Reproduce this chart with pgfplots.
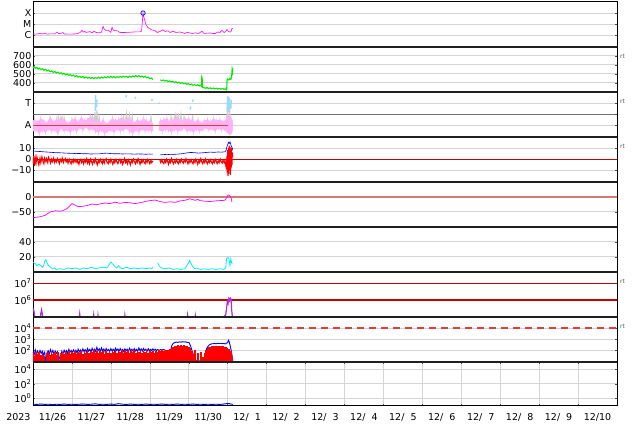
\documentclass[border=0pt]{standalone}
\usepackage{fontspec}
\setmainfont{DejaVu Sans}
\usepackage{pgfplots}
\pgfplotsset{compat=1.18}
\definecolor{pinkA}{RGB}{255,178,245}
\definecolor{grayA}{RGB}{205,205,205}
\definecolor{lblue}{RGB}{150,220,245}
\definecolor{gridc}{RGB}{212,212,212}
\definecolor{sepc}{RGB}{32,32,32}
\definecolor{dred}{RGB}{200,0,0}
\definecolor{ared}{RGB}{225,60,60}
\definecolor{lred}{RGB}{215,120,120}
\definecolor{purp}{RGB}{175,45,215}
\definecolor{mag}{RGB}{255,0,255}
\definecolor{grn}{RGB}{0,235,0}
\definecolor{cyn}{RGB}{0,240,240}
\newcommand{\fs}{\fontsize{9.5}{11}\selectfont}
\newcommand{\fsp}{\hphantom{0}}
\pgfplotsset{
 panel/.style={
  anchor=north west, at={(33pt,-#1)},
  width=584pt, height=45pt, scale only axis,
  xmin=0, xmax=15,
  xtick=\empty, minor xtick={1,2,...,14}, xminorgrids=true,
  ymajorgrids=true, yminorticks=false,
  grid style={gridc, line width=0.5pt},
  minor grid style={gridc, line width=0.5pt},
  major tick length=2pt, minor tick length=2pt,
  tick style={black!70, line width=0.4pt},
  axis line style={black, line width=0.8pt},
  yticklabel style={font=\fs, inner sep=1.5pt},
  /pgf/number format/assume math mode=true,
  unbounded coords=jump,
 },
 sepline/.style={after end axis/.append code={\draw[sepc, line width=2.2pt] (rel axis cs:0,1) -- (rel axis cs:1,1);}},
 rtlab/.style={after end axis/.append code={\node[font=\fontsize{6}{7}\selectfont, text=black!65, anchor=west, inner sep=0pt] at ([xshift=3pt]rel axis cs:1,0.78) {rt};}},
}
\begin{document}
\begin{tikzpicture}
\useasboundingbox (0,0) rectangle (634pt,-424pt);

% Panel 1: X-ray flux
\begin{axis}[panel=1.7pt, ymode=log, ymin=1e-7, ymax=1e-3,
  ytick={1e-6,1e-5,1e-4}, yticklabels={C,M,X}]
\addplot[mag, line width=0.6pt] coordinates {
(0,1.36e-6)(0.08,1.3e-6)(0.18,1.5e-6)(0.25,1.36e-6)(0.31,1.66e-6)(0.36,1.3e-6)(0.45,1.4e-6)(0.55,1.36e-6)(0.62,2.0e-6)(0.66,1.4e-6)(0.77,1.8e-6)(0.80,1.36e-6)(0.95,1.3e-6)(1.08,1.36e-6)(1.15,1.5e-6)(1.21,1.84e-6)(1.26,2.9e-6)(1.29,2.0e-6)(1.33,2.3e-6)(1.36,1.84e-6)(1.46,2.2e-6)(1.52,1.7e-6)(1.57,2.4e-6)(1.62,1.84e-6)(1.70,1.7e-6)(1.76,2.0e-6)(1.80,6.6e-6)(1.83,3.5e-6)(1.87,2.8e-6)(1.93,2.9e-6)(1.97,2.2e-6)(2.00,1.9e-6)(2.03,5.4e-6)(2.06,3.0e-6)(2.11,2.7e-6)(2.18,2.5e-6)(2.22,1.9e-6)(2.26,1.84e-6)(2.36,1.84e-6)(2.45,1.9e-6)(2.55,2.0e-6)(2.65,2.1e-6)(2.75,2.1e-6)(2.79,2.5e-6)(2.81,2.0e-5)(2.826,9.8e-5)(2.84,5.5e-5)(2.85,3.9e-5)(2.88,1.7e-5)(2.90,9.4e-6)(2.95,5.1e-6)(3.01,3.8e-6)(3.06,3.0e-6)(3.13,2.8e-6)(3.19,1.84e-6)(3.26,2.26e-6)(3.34,3.2e-6)(3.39,2.26e-6)(3.47,2.5e-6)(3.52,1.84e-6)(3.60,2.4e-6)(3.67,1.84e-6)(3.78,2.04e-6)(3.90,1.5e-6)(3.96,1.9e-6)(4.03,1.66e-6)(4.10,1.5e-6)(4.16,1.7e-6)(4.25,1.5e-6)(4.29,1.84e-6)(4.34,2.4e-6)(4.39,1.5e-6)(4.47,1.6e-6)(4.55,1.66e-6)(4.62,1.5e-6)(4.68,1.5e-6)(4.75,2.04e-6)(4.80,1.84e-6)(4.85,2.77e-6)(4.91,1.84e-6)(4.95,2.2e-6)(4.98,3.4e-6)(5.02,2.26e-6)(5.06,2.0e-6)(5.09,2.3e-6)(5.11,4.4e-6)(5.13,4.0e-6)};
\addplot[blue, only marks, mark=o, mark size=2.2pt, line width=0.7pt] coordinates {(2.826,9.8e-5)};
\end{axis}

% Panel 2: speed
\begin{axis}[panel=46.7pt, sepline, rtlab, ymin=300, ymax=800,
  ytick={400,500,600,700}]
\addplot[grn, line width=1.1pt] coordinates {
(0.00,580)(0.02,565)(0.04,575)(0.07,560)(0.10,568)(0.13,552)(0.16,562)(0.20,545)(0.24,555)(0.28,538)(0.32,548)(0.36,530)(0.40,540)(0.44,522)(0.48,532)(0.52,515)(0.56,525)(0.60,508)(0.64,518)(0.68,500)(0.72,510)(0.76,495)(0.80,503)(0.84,488)(0.88,496)(0.92,480)(0.96,490)(1.00,475)(1.04,485)(1.08,468)(1.12,478)(1.16,462)(1.20,472)(1.24,458)(1.28,468)(1.32,452)(1.36,463)(1.40,450)(1.44,460)(1.48,448)(1.52,458)(1.56,446)(1.60,456)(1.64,448)(1.68,460)(1.72,450)(1.76,462)(1.80,452)(1.84,465)(1.88,455)(1.92,468)(1.96,456)(2.00,470)(2.04,458)(2.08,468)(2.12,455)(2.16,466)(2.20,458)(2.24,470)(2.28,460)(2.32,472)(2.36,462)(2.40,470)(2.44,458)(2.48,472)(2.52,462)(2.56,475)(2.60,465)(2.64,480)(2.68,466)(2.72,478)(2.76,465)(2.80,474)(2.84,460)(2.88,470)(2.92,455)(2.96,462)(3.00,445)(3.04,452)(3.08,436)(3.10,nan)
(3.27,432)(3.31,422)(3.35,430)(3.39,418)(3.43,426)(3.47,412)(3.51,420)(3.55,408)(3.59,416)(3.63,402)(3.67,410)(3.71,398)(3.75,405)(3.79,392)(3.83,400)(3.87,388)(3.91,395)(3.95,382)(3.99,390)(4.03,376)(4.07,385)(4.11,372)(4.15,380)(4.19,368)(4.23,376)(4.27,364)(4.31,372)(4.33,360)(4.335,462)(4.345,450)(4.355,350)(4.39,345)(4.43,338)(4.47,346)(4.51,335)(4.55,343)(4.59,333)(4.63,341)(4.67,331)(4.71,339)(4.75,329)(4.79,337)(4.83,328)(4.87,336)(4.91,326)(4.95,332)(4.975,322)(4.985,425)(5.00,440)(5.03,430)(5.06,448)(5.08,438)(5.10,460)(5.115,552)(5.125,530)(5.13,560)};
\end{axis}

% Panel 3
\begin{axis}[panel=91.7pt, sepline, rtlab, ymin=0, ymax=4,
  ytick={1,3}, yticklabels={A,T},
  extra y ticks={2}, extra y tick labels={},
  extra y tick style={grid style={black!55, line width=0.8pt}}]
\addplot[grayA, line width=1pt] coordinates {
(0.62,0.8)(0.65,1.9)(0.68,0.9)(0.72,1.8)(0.76,0.8)(0.80,1.7)(0.84,0.8)(0.86,nan)
(1.50,0.8)(1.53,1.9)(1.56,0.8)(1.59,2.2)(1.62,0.9)(1.64,2.4)(1.67,0.8)(1.70,1.8)(1.73,0.8)(1.75,nan)
(2.30,0.8)(2.33,1.9)(2.36,0.8)(2.40,2.1)(2.44,0.9)(2.48,2.0)(2.52,0.8)(2.55,1.8)(2.58,0.8)(2.60,nan)
(3.00,0.8)(3.03,1.8)(3.06,0.8)(3.07,nan)
(3.50,0.8)(3.55,1.8)(3.60,0.8)(3.65,2.0)(3.70,0.9)(3.73,2.1)(3.77,0.8)(3.80,2.0)(3.84,0.8)(3.88,1.8)(3.92,0.8)(3.94,nan)
(4.08,0.8)(4.10,1.9)(4.13,0.8)(4.14,nan)
(4.97,0.8)(4.99,2.6)(5.02,0.5)(5.05,2.8)(5.08,0.4)(5.12,1.5)};
\addplot[pinkA, fill=pinkA, line width=0.6pt] coordinates {
(0.00,1.4)(0.04,1.5)(0.12,1.3)(0.20,1.6)(0.28,1.4)(0.36,1.2)(0.44,1.7)(0.52,1.3)(0.60,1.5)(0.68,1.4)(0.76,1.6)(0.84,1.3)(0.92,1.2)(1.00,1.5)(1.08,1.6)(1.16,1.3)(1.24,1.7)(1.32,1.4)(1.40,1.5)(1.48,1.8)(1.56,1.4)(1.64,1.3)(1.72,1.2)(1.80,1.5)(1.88,1.1)(1.96,1.3)(2.04,1.6)(2.12,1.4)(2.20,1.5)(2.28,1.7)(2.36,1.3)(2.44,1.6)(2.52,1.4)(2.60,1.2)(2.68,1.5)(2.76,1.3)(2.84,1.6)(2.92,1.4)(3.00,1.3)(3.08,1.2)
(3.08,0.5)(2.96,0.6)(2.88,0.5)(2.80,0.7)(2.72,0.4)(2.64,0.6)(2.56,0.3)(2.48,0.5)(2.40,0.8)(2.32,0.6)(2.24,0.5)(2.16,0.7)(2.08,0.4)(2.00,0.6)(1.92,0.5)(1.84,0.3)(1.76,0.6)(1.68,0.4)(1.60,0.5)(1.52,0.7)(1.44,0.6)(1.36,0.9)(1.28,0.6)(1.20,0.8)(1.12,0.5)(1.04,0.7)(0.96,0.4)(0.88,0.6)(0.80,0.5)(0.72,0.8)(0.64,0.3)(0.56,0.6)(0.48,0.5)(0.40,0.7)(0.32,0.4)(0.24,0.6)(0.16,0.3)(0.08,0.6)(0.00,0.5)} -- cycle;
\addplot[pinkA, fill=pinkA, line width=0.6pt] coordinates {
(3.24,1.3)(3.28,1.4)(3.36,1.5)(3.44,1.6)(3.52,1.3)(3.60,1.5)(3.68,1.7)(3.76,1.4)(3.84,1.3)(3.92,1.5)(4.00,1.6)(4.08,1.4)(4.16,1.3)(4.24,1.5)(4.32,1.2)(4.40,1.4)(4.48,1.5)(4.56,1.3)(4.64,1.6)(4.72,1.4)(4.80,1.5)(4.88,1.3)(4.96,1.5)(5.00,1.9)(5.04,1.7)(5.08,1.8)(5.12,1.2)
(5.12,0.6)(5.10,0.3)(5.06,0.2)(5.02,0.3)(4.98,0.4)(4.92,0.7)(4.84,0.6)(4.76,0.8)(4.68,0.5)(4.60,0.7)(4.52,0.6)(4.44,0.8)(4.36,0.6)(4.28,0.5)(4.20,0.7)(4.12,0.4)(4.04,0.6)(3.96,0.5)(3.88,0.8)(3.80,0.6)(3.72,0.5)(3.64,0.7)(3.56,0.4)(3.48,0.6)(3.40,0.7)(3.32,0.5)(3.24,0.6)} -- cycle;
\addplot[pinkA, line width=1.1pt] coordinates {
(0.00,0.5)(0.04,1.5)(0.08,0.6)(0.12,1.3)(0.16,0.3)(0.20,1.6)(0.24,0.6)(0.28,1.4)(0.32,0.4)(0.36,1.2)(0.40,0.7)(0.44,1.7)(0.48,0.5)(0.52,1.3)(0.56,0.6)(0.60,1.5)(0.64,0.3)(0.68,1.4)(0.72,0.8)(0.76,1.6)(0.80,0.5)(0.84,1.3)(0.88,0.6)(0.92,1.2)(0.96,0.4)(1.00,1.5)(1.04,0.7)(1.08,1.6)(1.12,0.5)(1.16,1.3)(1.20,0.8)(1.24,1.7)(1.28,0.6)(1.32,1.4)(1.36,0.9)(1.40,1.5)(1.44,0.6)(1.48,1.8)(1.52,0.7)(1.56,1.4)(1.60,0.5)(1.64,1.3)(1.68,0.4)(1.72,1.2)(1.76,0.6)(1.80,1.5)(1.84,0.3)(1.88,1.1)(1.92,0.5)(1.96,1.3)(2.00,0.6)(2.04,1.6)(2.08,0.4)(2.12,1.4)(2.16,0.7)(2.20,1.5)(2.24,0.5)(2.28,1.7)(2.32,0.6)(2.36,1.3)(2.40,0.8)(2.44,1.6)(2.48,0.5)(2.52,1.4)(2.56,0.3)(2.60,1.2)(2.64,0.6)(2.68,1.5)(2.72,0.4)(2.76,1.3)(2.80,0.7)(2.84,1.6)(2.88,0.5)(2.92,1.4)(2.96,0.6)(3.00,1.3)(3.04,0.5)(3.08,1.2)(3.10,nan)
(3.24,0.6)(3.28,1.4)(3.32,0.5)(3.36,1.5)(3.40,0.7)(3.44,1.6)(3.48,0.6)(3.52,1.3)(3.56,0.4)(3.60,1.5)(3.64,0.7)(3.68,1.7)(3.72,0.5)(3.76,1.4)(3.80,0.6)(3.84,1.3)(3.88,0.8)(3.92,1.5)(3.96,0.5)(4.00,1.6)(4.04,0.6)(4.08,1.4)(4.12,0.4)(4.16,1.3)(4.20,0.7)(4.24,1.5)(4.28,0.5)(4.32,1.2)(4.36,0.6)(4.40,1.4)(4.44,0.8)(4.48,1.5)(4.52,0.6)(4.56,1.3)(4.60,0.7)(4.64,1.6)(4.68,0.5)(4.72,1.4)(4.76,0.8)(4.80,1.5)(4.84,0.6)(4.88,1.3)(4.92,0.7)(4.96,1.5)(4.98,0.4)(5.00,1.9)(5.02,0.3)(5.04,1.7)(5.06,0.2)(5.08,1.8)(5.10,0.3)(5.12,1.2)};
\addplot[lblue, line width=1.5pt] coordinates {
(1.60,2.3)(1.61,3.7)(1.62,nan)(1.63,2.6)(1.64,3.3)(1.65,nan)(2.39,3.5)(2.40,3.7)(2.41,nan)(2.62,3.4)(2.63,3.55)(2.64,nan)(3.05,3.2)(3.06,3.35)(3.07,nan)(3.24,2.9)(3.25,3.05)(3.26,nan)(4.04,2.4)(4.05,2.7)(4.06,nan)(4.10,3.1)(4.11,3.3)(4.12,nan)(4.99,2.4)(5.00,3.6)(5.01,nan)(5.03,2.2)(5.04,3.5)(5.05,nan)(5.08,2.5)(5.09,3.3)};
\addplot[ared, line width=1pt] coordinates {(0,1)(5.0,1)};
\end{axis}

% Panel 4: Bt / Bz
\begin{axis}[panel=136.7pt, sepline, rtlab, ymin=-20, ymax=20,
  ytick={-10,0,10}, yticklabels={−10,0,10}]
\addplot[dred, line width=1pt] coordinates {(0,0)(15,0)};
\addplot[red, line width=1.1pt] coordinates {
(0.00,-4)(0.02,3)(0.04,-6)(0.06,1)(0.08,-3)(0.10,2)(0.13,-2)(0.15,-5)(0.18,1)(0.20,-3)(0.23,2)(0.25,-1)(0.28,-4)(0.30,1)(0.33,-2)(0.35,0.5)(0.38,-3)(0.40,1.5)(0.43,-1)(0.45,-3.5)(0.48,0)(0.50,-2)(0.53,1)(0.55,-3)(0.58,-0.5)(0.60,-2.5)(0.63,0.5)(0.65,-1.5)(0.68,-4)(0.70,0)(0.73,-2)(0.75,1)(0.78,-3)(0.80,-1)(0.83,0.5)(0.85,-2.5)(0.88,-0.5)(0.90,-3.5)(0.93,0)(0.95,-2)(0.98,-4)(1.00,-1)(1.03,-3)(1.05,0)(1.08,-2.5)(1.10,-0.5)(1.13,-3)(1.15,-1)(1.18,-4.5)(1.20,-1.5)(1.23,0)(1.25,-3)(1.28,-1)(1.30,-4)(1.33,-0.5)(1.35,-2.5)(1.38,0.5)(1.40,-3.5)(1.43,-1)(1.45,-4)(1.48,0)(1.50,-2)(1.53,-4.5)(1.55,-1)(1.58,-3)(1.60,0.5)(1.63,-2.5)(1.65,-5)(1.68,-1)(1.70,-3)(1.73,0)(1.75,-2)(1.78,-4)(1.80,-0.5)(1.83,-3.5)(1.85,-1)(1.88,0.5)(1.90,-2.5)(1.93,-4)(1.95,-1)(1.98,-3)(2.00,0)(2.03,-2.5)(2.05,-4.5)(2.08,-1)(2.10,-3)(2.13,0)(2.15,-2)(2.18,-4)(2.20,-1.5)(2.23,0)(2.25,-3)(2.28,-1)(2.30,-4.5)(2.33,-2)(2.35,0.5)(2.38,-3)(2.40,-1)(2.43,-4)(2.45,-0.5)(2.48,-2.5)(2.50,-5)(2.53,-1)(2.55,-3)(2.58,0)(2.60,-2)(2.63,-4)(2.65,-1)(2.68,-3)(2.70,0.5)(2.73,-2)(2.75,-4.5)(2.78,-1)(2.80,-3)(2.83,-0.5)(2.85,-2.5)(2.88,-4)(2.90,-1)(2.93,-3)(2.95,0)(2.98,-2)(3.00,-4)(3.03,-1)(3.05,-3)(3.08,-1.5)(3.10,nan)
(3.26,-1)(3.28,-3)(3.31,-0.5)(3.33,-2.5)(3.36,-4)(3.38,-1)(3.41,-3)(3.43,0)(3.46,-2)(3.48,-4.5)(3.51,-1)(3.53,-3)(3.56,0.5)(3.58,-2)(3.61,-4)(3.63,-1.5)(3.66,-3)(3.68,0)(3.71,-2.5)(3.73,-4)(3.76,-1)(3.78,-3)(3.81,0)(3.83,-2)(3.86,-3.5)(3.88,-1)(3.91,-2.5)(3.93,0.5)(3.96,-2)(3.98,-4)(4.01,-1)(4.03,-3)(4.06,-0.5)(4.08,-2.5)(4.11,-4)(4.13,-1)(4.16,-3)(4.18,0)(4.21,-2)(4.23,-4.5)(4.26,-1)(4.28,-3)(4.31,0.5)(4.33,-2)(4.36,-4)(4.38,-1)(4.41,-3)(4.43,0)(4.46,-2.5)(4.48,-4)(4.51,-1)(4.53,-3)(4.56,-0.5)(4.58,-2.5)(4.61,-4)(4.63,-1)(4.66,-3)(4.68,0)(4.71,-2)(4.73,-4)(4.76,-1.5)(4.78,-3)(4.81,0)(4.83,-2)(4.86,-3.5)(4.88,-1)(4.91,-3)(4.93,-1)(4.95,-5)(4.97,-9)(4.98,3)(4.99,-12)(5.00,8)(5.01,-15)(5.02,10)(5.03,-13)(5.04,12)(5.05,-10)(5.06,11)(5.07,-14)(5.08,9)(5.09,-8)(5.10,10)(5.11,-5)(5.12,6)(5.13,2)};
\addplot[blue, line width=0.6pt] coordinates {
(0.00,7.3)(0.1,7.0)(0.2,6.8)(0.3,6.5)(0.4,6.3)(0.5,6.0)(0.6,5.8)(0.7,5.7)(0.8,5.5)(0.9,5.3)(1.0,5.2)(1.1,5.0)(1.2,5.1)(1.3,4.8)(1.4,4.9)(1.5,4.6)(1.6,4.8)(1.7,4.7)(1.8,5.2)(1.9,5.4)(2.0,5.0)(2.1,4.8)(2.2,4.9)(2.3,4.6)(2.4,4.8)(2.5,4.7)(2.6,4.5)(2.7,4.7)(2.8,4.6)(2.9,4.4)(3.0,4.6)(3.08,4.5)(3.10,nan)
(3.26,3.8)(3.35,4.1)(3.45,4.3)(3.55,4.0)(3.65,4.4)(3.75,4.6)(3.85,5.0)(3.95,5.6)(4.05,6.0)(4.15,5.8)(4.25,5.4)(4.35,5.7)(4.45,6.0)(4.55,6.3)(4.65,6.1)(4.75,6.4)(4.85,6.3)(4.93,6.6)(4.96,8)(4.98,11)(5.00,13)(5.02,15)(5.04,14)(5.06,15.5)(5.08,13)(5.10,11)(5.12,10)(5.13,8)};
\end{axis}

% Panel 5: Dst
\begin{axis}[panel=181.7pt, sepline, ymin=-100, ymax=50,
  ytick={-50,0}, yticklabels={−50,0}]
\addplot[lred, line width=1.8pt] coordinates {(0,0)(15,0)};
\addplot[mag, line width=0.7pt] coordinates {
(0,-70)(0.18,-67)(0.31,-62)(0.44,-51)(0.57,-47)(0.74,-48)(0.87,-40)(1.0,-23)(1.08,-28)(1.16,-33)(1.28,-32)(1.41,-29)(1.52,-24)(1.62,-27)(1.72,-24)(1.85,-21)(1.98,-23)(2.11,-18)(2.23,-22)(2.36,-19)(2.49,-20)(2.62,-23)(2.75,-20)(2.88,-16)(3.0,-13)(3.13,-11)(3.26,-16)(3.39,-19)(3.52,-17)(3.65,-19)(3.78,-14)(3.9,-12)(4.03,-7)(4.11,-10)(4.16,-12)(4.24,-9)(4.29,-13)(4.42,-15)(4.55,-16)(4.68,-14)(4.8,-13)(4.93,-12)(4.98,-2)(5.01,6)(5.06,3)(5.09,-5)(5.11,-18)};
\end{axis}

% Panel 6
\begin{axis}[panel=226.7pt, sepline, ymin=0, ymax=60, ytick={20,40}]
\addplot[cyn, line width=0.8pt] coordinates {
(0,13)(0.05,11)(0.1,8)(0.15,10)(0.2,8)(0.25,6)(0.28,9)(0.3,14)(0.33,16)(0.36,12)(0.4,8)(0.45,6)(0.5,4)(0.55,5)(0.6,3)(0.7,4)(0.8,3)(0.9,5)(1.0,4)(1.1,5)(1.2,3)(1.3,5)(1.4,4)(1.5,6)(1.6,4)(1.7,5)(1.8,6)(1.9,5)(1.95,9)(2.0,13)(2.05,10)(2.1,7)(2.15,5)(2.2,8)(2.25,5)(2.3,4)(2.4,6)(2.5,4)(2.6,5)(2.7,4)(2.8,5)(2.9,4)(3.0,5)(3.05,4)(3.08,6)(3.10,nan)
(3.2,12)(3.25,7)(3.3,5)(3.4,4)(3.5,5)(3.6,3)(3.7,4)(3.8,3)(3.9,4)(3.95,8)(4.0,12)(4.02,15)(4.05,12)(4.1,7)(4.15,4)(4.2,5)(4.3,3)(4.4,4)(4.5,3)(4.6,4)(4.7,3)(4.8,4)(4.9,3)(4.95,5)(4.97,17)(5.0,19)(5.03,18)(5.06,8)(5.08,17)(5.1,12)(5.12,10)};
\end{axis}

% Panel 7
\begin{axis}[panel=271.7pt, sepline, rtlab, ymode=log, ymin=1e5, ymax=5e7,
  ytick={1e6,1e7}, yticklabels={10\textsuperscript{6},10\textsuperscript{7}},
  ymajorgrids=false,
  after end axis/.append code={\draw[dred, line width=1.2pt] (rel axis cs:0,0.741) -- (rel axis cs:1,0.741);}]
\addplot[dred, line width=1.2pt] coordinates {(0,1e6)(15,1e6)};
\addplot[dred, line width=1.2pt] coordinates {(0,1e7)(15,1e7)};
\addplot[purp, line width=1.2pt] coordinates {
(0,3e5)(0.02,2.5e5)(0.04,1.2e5)(0.06,6e4)(0.18,6e4)(0.2,1.5e5)(0.22,2.6e5)(0.24,1.4e5)(0.26,6e4)(1.18,6e4)(1.2,1.5e5)(1.22,6e4)(1.55,6e4)(1.56,1.25e5)(1.58,6e4)(1.66,6e4)(1.67,1.2e5)(1.69,6e4)(2.35,6e4)(2.36,1.2e5)(2.38,6e4)(3.95,6e4)(3.97,1.3e5)(3.99,6e4)(4.16,6e4)(4.17,1.15e5)(4.19,6e4)(4.88,6e4)(4.92,1.1e5)(4.95,1.3e5)(4.97,3e5)(4.99,8e5)(5.01,6e5)(5.03,1.2e6)(5.05,9e5)(5.07,1.3e6)(5.09,1.1e6)(5.10,3e5)(5.12,1e5)(5.13,6e4)};
\end{axis}

% Panel 8
\begin{axis}[panel=316.7pt, sepline, rtlab, ymode=log, ymin=10, ymax=1e5,
  ytick={100,1000,10000}, yticklabels={10\textsuperscript{2},10\textsuperscript{3},10\textsuperscript{4}}]
\addplot[ared, line width=1.2pt, dash pattern=on 7pt off 5pt] coordinates {(0,10000)(15,10000)};
\addplot[blue, line width=0.9pt] coordinates {
(0.00,80)(0.03,40)(0.06,110)(0.09,50)(0.12,90)(0.15,45)(0.18,100)(0.21,55)(0.24,85)(0.27,40)(0.30,70)(0.33,10)(0.36,60)(0.39,95)(0.42,50)(0.45,120)(0.48,60)(0.51,100)(0.54,45)(0.57,90)(0.60,55)(0.63,80)(0.66,40)(0.70,12)(0.74,85)(0.77,50)(0.80,105)(0.83,60)(0.86,95)(0.89,55)(0.92,125)(0.95,70)(0.98,100)(1.01,60)(1.04,115)(1.07,70)(1.10,105)(1.13,60)(1.16,130)(1.19,75)(1.22,110)(1.25,65)(1.28,140)(1.31,80)(1.34,120)(1.37,70)(1.40,150)(1.43,85)(1.46,125)(1.49,75)(1.52,160)(1.55,90)(1.58,130)(1.61,80)(1.64,190)(1.67,95)(1.70,140)(1.73,85)(1.76,170)(1.79,90)(1.82,135)(1.85,80)(1.88,150)(1.91,95)(1.94,125)(1.97,80)(2.00,145)(2.03,90)(2.06,130)(2.09,85)(2.12,160)(2.15,95)(2.18,135)(2.21,85)(2.24,150)(2.27,90)(2.30,125)(2.33,80)(2.36,140)(2.39,95)(2.42,130)(2.45,85)(2.48,155)(2.51,95)(2.54,130)(2.57,85)(2.60,145)(2.63,90)(2.66,125)(2.69,85)(2.72,170)(2.75,95)(2.78,140)(2.81,90)(2.84,150)(2.87,95)(2.90,130)(2.93,85)(2.96,145)(2.99,90)(3.02,125)(3.05,95)(3.08,140)(3.11,100)(3.14,130)(3.17,95)(3.20,125)(3.24,100)(3.28,120)(3.32,110)(3.36,125)(3.40,100)(3.44,40)(3.46,12)(3.50,12)(3.52,60)(3.56,250)(3.60,420)(3.64,500)(3.68,560)(3.72,520)(3.76,580)(3.80,540)(3.84,600)(3.88,560)(3.92,590)(3.96,520)(4.00,540)(4.04,300)(4.08,110)(4.12,40)(4.16,12)(4.20,12)(4.30,12)(4.40,12)(4.42,30)(4.46,150)(4.50,250)(4.54,330)(4.58,380)(4.62,400)(4.66,420)(4.70,390)(4.74,430)(4.78,410)(4.82,440)(4.86,400)(4.90,420)(4.94,380)(4.97,450)(5.00,500)(5.02,800)(5.04,600)(5.06,300)(5.08,150)(5.10,70)(5.12,25)(5.13,12)};
\addplot[red, ycomb, line width=1.6pt] coordinates {
(0.00,60)(0.04,35)(0.08,75)(0.12,45)(0.16,80)(0.20,40)(0.24,65)(0.28,30)(0.32,12)(0.36,55)(0.40,70)(0.44,38)(0.48,85)(0.52,50)(0.56,72)(0.60,42)(0.64,68)(0.68,15)(0.72,58)(0.76,80)(0.80,45)(0.84,70)(0.88,52)(0.92,90)(0.96,48)(1.00,75)(1.04,55)(1.08,88)(1.12,46)(1.16,78)(1.20,60)(1.24,95)(1.28,52)(1.32,85)(1.36,65)(1.40,100)(1.44,58)(1.48,90)(1.52,70)(1.56,110)(1.60,62)(1.64,92)(1.68,55)(1.72,85)(1.76,68)(1.80,98)(1.84,50)(1.88,82)(1.92,64)(1.96,95)(2.00,58)(2.04,88)(2.08,70)(2.12,105)(2.16,60)(2.20,90)(2.24,66)(2.28,100)(2.32,55)(2.36,92)(2.40,72)(2.44,110)(2.48,63)(2.52,95)(2.56,68)(2.60,100)(2.64,58)(2.68,90)(2.72,75)(2.76,108)(2.80,62)(2.84,94)(2.88,70)(2.92,100)(2.96,60)(3.00,88)(3.04,72)(3.08,96)(3.12,65)(3.16,92)(3.20,78)(3.24,100)(3.28,85)(3.32,105)(3.36,95)(3.40,110)(3.44,100)(3.48,120)(3.52,130)(3.56,170)(3.60,200)(3.64,240)(3.68,260)(3.72,280)(3.76,270)(3.80,290)(3.84,275)(3.88,285)(3.92,260)(3.96,250)(4.00,220)(4.04,170)(4.08,90)(4.12,40)(4.16,120)(4.20,15)(4.24,60)(4.28,12)(4.32,80)(4.36,25)(4.40,60)(4.44,110)(4.48,160)(4.52,190)(4.56,210)(4.60,230)(4.64,225)(4.68,240)(4.72,235)(4.76,245)(4.80,230)(4.84,240)(4.88,225)(4.92,215)(4.96,200)(5.00,170)(5.04,140)(5.08,90)(5.12,25)};
\end{axis}

% Panel 9
\begin{axis}[panel=361.7pt, height=44pt, sepline, ymode=log, ymin=0.1, ymax=1e5,
  ytick={1,100,10000}, yticklabels={10\textsuperscript{0},10\textsuperscript{2},10\textsuperscript{4}},
  xtick={0.5,1.5,...,14.5},
  xticklabels={11/26,11/27,11/28,11/29,11/30,12/\fsp1,12/\fsp2,12/\fsp3,12/\fsp4,12/\fsp5,12/\fsp6,12/\fsp7,12/\fsp8,12/\fsp9,12/10},
  major x tick style={draw=none},
  xticklabel style={font=\fs, yshift=-4.5pt},
  after end axis/.append code={\node[font=\fs, anchor=north east, yshift=-4.5pt, xshift=1pt] at (rel axis cs:0,0) {2023};}]
\addplot[blue, line width=0.9pt] coordinates {
(0,0.16)(0.1,0.15)(0.2,0.17)(0.3,0.15)(0.4,0.16)(0.5,0.14)(0.6,0.16)(0.7,0.15)(0.8,0.17)(0.9,0.15)(1.0,0.16)(1.1,0.15)(1.2,0.16)(1.3,0.17)(1.4,0.15)(1.5,0.16)(1.6,0.18)(1.7,0.15)(1.8,0.16)(1.9,0.15)(2.0,0.17)(2.1,0.15)(2.2,0.19)(2.3,0.16)(2.4,0.15)(2.5,0.17)(2.6,0.15)(2.7,0.16)(2.8,0.15)(2.9,0.17)(3.0,0.15)(3.1,0.16)(3.2,0.15)(3.3,0.17)(3.4,0.15)(3.5,0.16)(3.6,0.15)(3.7,0.17)(3.8,0.15)(3.9,0.16)(4.0,0.15)(4.1,0.17)(4.2,0.15)(4.3,0.16)(4.4,0.15)(4.5,0.16)(4.6,0.15)(4.7,0.16)(4.8,0.15)(4.9,0.17)(5.0,0.2)(5.05,0.19)(5.1,0.16)(5.13,0.15)};
\end{axis}
\end{tikzpicture}
\end{document}
